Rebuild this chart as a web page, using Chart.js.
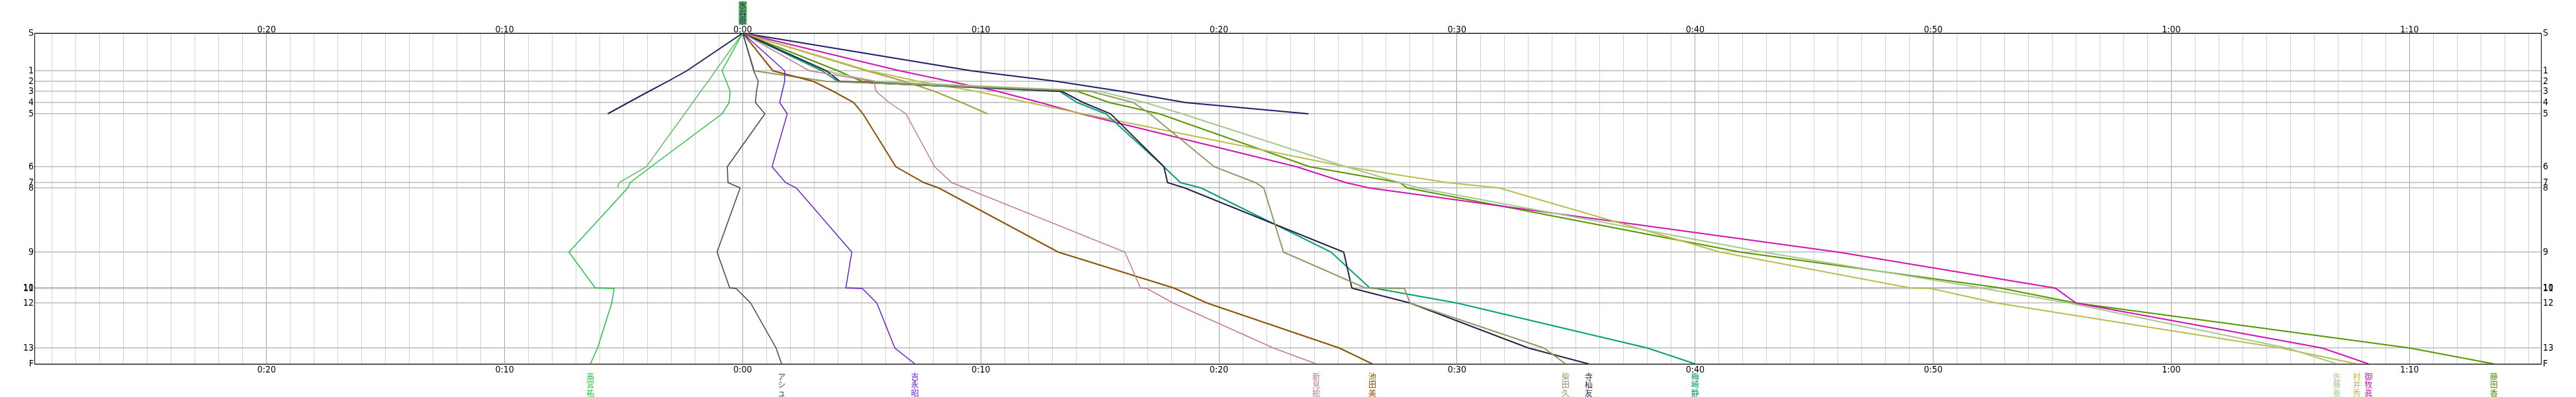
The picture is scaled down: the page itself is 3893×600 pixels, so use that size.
<!DOCTYPE html>
<html><head><meta charset="utf-8">
<script src="https://cdn.jsdelivr.net/npm/chart.js@4.4.1/dist/chart.umd.min.js"></script>
<style>html,body{margin:0;padding:0;background:#fff;}canvas{display:block;}</style>
</head><body>
<canvas id="c" width="3893" height="600"></canvas>
<script>
// ---- axis definitions ----
const checkpointLabels = ['S','1','2','3','4','5','6','7','8','9','10','11','12','13','F'];
const checkpointPos    = [0, 57, 73, 88, 105, 122, 202, 226, 234, 331, 385, 386, 408, 476, 500];
const xTickMinutes     = [-20, -10, 0, 10, 20, 30, 40, 50, 60, 70];
const xMin = -29.75, xMax = 75.55;

// ---- series: time difference (minutes) at each checkpoint S..F ----
const takamiya = [0, -0.87, -0.69, -0.53, -0.57, -0.87, -3.85, -4.73, -4.83, -7.3, -6.2, -5.4, -5.5, -6.1, -6.4];
const ashu     = [0, 0.46, 0.65, 0.58, 0.53, 0.93, -0.65, -0.62, -0.11, -1.08, -0.55, -0.28, 0.33, 1.4, 1.63];
const yoshinaga= [0, 1.76, 1.76, 1.66, 1.55, 1.87, 1.23, 1.80, 2.25, 4.58, 4.33, 5.02, 5.63, 6.39, 7.23];
const niimi    = [0, 2.8, 5.5, 5.6, 6.15, 6.85, 8.06, 8.78, 9.34, 16.05, 16.7, 16.97, 18.08, 22.29, 24.09];
const ikeda    = [0, 1.27, 2.97, 3.8, 4.66, 5.05, 6.43, 7.61, 8.23, 13.25, 18.08, 18.15, 19.5, 25.06, 26.44];
const shibata  = [0, 0.48, 3.53, 14.6, 16.4, 17.1, 19.8, 21.53, 21.88, 22.71, 26.13, 27.79, 28.03, 33.65, 34.56];
const terasoma = [0, 3.52, 4.08, 13.4, 14.3, 15.45, 17.69, 17.84, 18.56, 25.24, 25.58, 25.64, 28.03, 33.0, 35.53];
const umezaki  = [0, 3.33, 4.0, 13.3, 14.05, 15.25, 17.69, 18.38, 19.25, 24.71, 26.33, 26.6, 30.0, 38.0, 40.0];
const sato     = [0, 3.4, 5.6, 15.0, 16.9, 18.45, 25.33, 27.6, 28.37, 42.85, 52.0, 52.1, 55.7, 64.87, 66.95];
const murai    = [0, 5.3, 7.4, 9.8, 12.0, 14.3, 25.33, 29.6, 31.76, 41.05, 49.0, 49.9, 52.66, 64.6, 67.79];
const mimaki   = [0, 6.6, 8.7, 10.7, 12.5, 14.2, 23.26, 25.33, 26.3, 46.0, 55.05, 55.15, 56.0, 66.34, 68.28];
const fujita   = [0, 4.0, 5.0, 14.05, 15.4, 17.5, 23.81, 27.6, 27.9, 41.9, 52.8, 52.9, 56.0, 70.02, 73.55];
const dnfNavy  = [0, 9.6, 13.2, 15.9, 18.6, 23.76];
const dnfDark  = [0, -2.35, -3.15, -3.94, -4.81, -5.67];
const dnfKhaki = [0, 5.2, 6.8, 8.05, 9.2, 10.28];
const dnfGreen = [0, -1.15, -1.45, -1.77, -2.10, -2.44, -4.05, -5.19, -5.26];

const seriesNames  = ['高宮祐','アシュ','吉永昭','新見絵','池田美','柴田久','寺杣友','梅崎静','佐藤亜','村井秀','御牧眞','藤田香','','','',''];
const seriesValues = [takamiya, ashu, yoshinaga, niimi, ikeda, shibata, terasoma, umezaki, sato, murai, mimaki, fujita, dnfNavy, dnfDark, dnfKhaki, dnfGreen];
const seriesColors = ['#22c444','#34485e','#6a1fd0','#c47a8c','#8a5200','#979766','#2a2048','#00a077','#a6c98e','#bcbc4e','#d014b0','#579600','#1e1e6c','#1b2a55','#a8a040','#66bb66'];
const seriesWidths = [1.5,1.5,1.5,1.5,2,2,2,2,2,2,2,2,2,2,2,1.5];
const startLabel = '水谷奈';

const datasets = seriesValues.map((vals, i) => ({
  label: seriesNames[i] || ('#' + (i + 1)),
  data: vals.map((v, k) => ({x: v, y: checkpointPos[k]})),
  borderColor: seriesColors[i],
  backgroundColor: seriesColors[i],
  borderWidth: seriesWidths[i],
  pointRadius: 0,
  fill: false,
  tension: 0
}));

function fmtMin(v) {
  const a = Math.abs(v);
  const h = Math.floor(a / 60), m = Math.round(a % 60);
  return h + ':' + String(m).padStart(2, '0');
}

const labelPlugin = {
  id: 'labels',
  afterDraw(chart) {
    const ctx = chart.ctx, xs = chart.scales.x, ys = chart.scales.y;
    const a = chart.chartArea;
    ctx.save();
    ctx.strokeStyle = '#000';
    ctx.lineWidth = 1;
    ctx.beginPath();
    ctx.moveTo(a.left, a.top + 0.5); ctx.lineTo(a.right, a.top + 0.5);
    ctx.moveTo(a.left, a.bottom + 0.5); ctx.lineTo(a.right, a.bottom + 0.5);
    ctx.moveTo(a.left + 0.5, a.top); ctx.lineTo(a.left + 0.5, a.bottom);
    ctx.moveTo(a.right - 0.5, a.top); ctx.lineTo(a.right - 0.5, a.bottom);
    ctx.stroke();
    ctx.fillStyle = '#000';
    ctx.font = '14px "Liberation Sans Narrow", "DejaVu Sans Condensed", sans-serif';
    ctx.textAlign = 'center';
    xTickMinutes.forEach(v => {
      const px = xs.getPixelForValue(v);
      ctx.textBaseline = 'alphabetic';
      ctx.fillText(fmtMin(v), px, a.top - 1);
      ctx.textBaseline = 'top';
      ctx.fillText(fmtMin(v), px, a.bottom + 2);
    });
    ctx.textBaseline = 'middle';
    checkpointLabels.forEach((lab, k) => {
      const py = ys.getPixelForValue(checkpointPos[k]);
      ctx.textAlign = 'right';
      ctx.fillText(lab, a.left - 1, py);
      ctx.textAlign = 'left';
      ctx.fillText(lab, a.right + 2, py);
    });
    ctx.font = '12px "Noto Sans CJK JP", sans-serif';
    ctx.textAlign = 'center';
    ctx.textBaseline = 'top';
    seriesValues.forEach((vals, i) => {
      if (vals.length !== checkpointPos.length || !seriesNames[i]) return;
      const px = xs.getPixelForValue(vals[vals.length - 1]);
      ctx.fillStyle = seriesColors[i];
      [...seriesNames[i]].forEach((ch, j) => ctx.fillText(ch, px, a.bottom + 13 + j * 12.5));
    });
    const sx = xs.getPixelForValue(0);
    ctx.fillStyle = '#44b84a';
    ctx.fillRect(sx - 6, 2, 12, 35);
    ctx.fillStyle = '#3a1f7a';
    [...startLabel].forEach((ch, j) => ctx.fillText(ch, sx, 2 + j * 12));
    ctx.restore();
  }
};

new Chart(document.getElementById('c'), {
  type: 'line',
  data: { datasets },
  options: {
    responsive: false,
    animation: false,
    events: [],
    layout: { padding: { left: 52, right: 52, top: 50, bottom: 50 } },
    plugins: { legend: { display: false }, tooltip: { enabled: false } },
    scales: {
      x: {
        type: 'linear', min: xMin, max: xMax,
        ticks: { display: false },
        border: { display: false },
        grid: {
          drawTicks: false,
          color: c => (Math.round(c.tick.value) % 10 === 0 ? '#a3a3a3' : '#d2d2d2'),
          lineWidth: 1
        },
        afterBuildTicks: s => {
          const t = [];
          for (let v = Math.ceil(xMin); v <= Math.floor(xMax); v++) t.push({ value: v });
          s.ticks = t;
        },
        afterFit: s => { s.height = 0; }
      },
      y: {
        type: 'linear', min: 0, max: 500, reverse: true,
        ticks: { display: false },
        border: { display: false },
        grid: { drawTicks: false, color: '#bcbcbc', lineWidth: 1.5 },
        afterBuildTicks: s => { s.ticks = checkpointPos.map(v => ({ value: v })); },
        afterFit: s => { s.width = 0; }
      }
    }
  },
  plugins: [labelPlugin]
});
</script>
</body></html>
